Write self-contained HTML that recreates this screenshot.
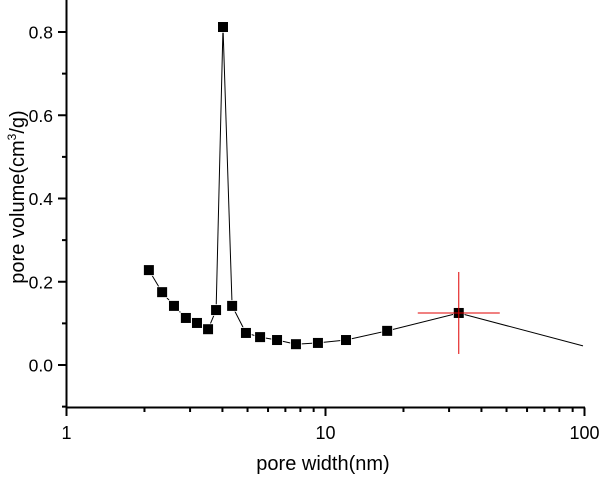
<!DOCTYPE html>
<html><head><meta charset="utf-8"><style>
body{margin:0;background:#fff;width:604px;height:475px;overflow:hidden}
svg{font-family:"Liberation Sans",Arial,sans-serif}
</style></head><body>
<svg id="chart" width="604" height="475" xmlns="http://www.w3.org/2000/svg"></svg>
<script>
const poreWidth=[2.08,2.34,2.60,2.89,3.19,3.52,3.78,4.02,4.36,4.93,5.59,6.50,7.69,9.35,12.0,17.3,32.7,98.7];
const poreVolume=[0.228,0.175,0.142,0.113,0.101,0.086,0.132,0.812,0.142,0.077,0.067,0.060,0.050,0.053,0.060,0.082,0.125,0.046];
const markerShown=[1,1,1,1,1,1,1,1,1,1,1,1,1,1,1,1,1,0];
const yTicks=[0,0.2,0.4,0.6,0.8];
const yTickLabels=["0.0","0.2","0.4","0.6","0.8"];
const xTicks=[1,10,100];
const xTickLabels=["1","10","100"];
const cursorPoint=[32.7,0.125];

const NS="http://www.w3.org/2000/svg";
const svg=document.getElementById('chart');
const X0=66.5,DEC=259,Y0=365,YU=416.25;
function sx(v){return X0+Math.log10(v)*DEC;}
function sy(v){return Y0-v*YU;}
function mk(tag,attrs,parent){const e=document.createElementNS(NS,tag);for(const k in attrs)e.setAttribute(k,attrs[k]);(parent||svg).appendChild(e);return e;}

let a=mk('line',{x1:66.5,y1:0,x2:66.5,y2:408,stroke:'#000','stroke-width':2});


a=mk('line',{x1:65.5,y1:407.5,x2:585,y2:407.5,stroke:'#000','stroke-width':2});



for(let v=-0.1;v<0.86;v+=0.1){
  const r=Math.round(v*10)/10;const major=Math.abs(r*10)%2===0;
  const t=mk('line',{x1:66.5,x2:major?58:62,y1:sy(r),y2:sy(r),stroke:'#000','stroke-width':2});
  
  
}
yTicks.forEach((v,i)=>{
  const t=mk('text',{x:53,y:sy(v)+6.5,'text-anchor':'end','font-size':17.5,fill:'#000'});
  t.textContent=yTickLabels[i];
  
  
});
for(let d=1;d<=100;d*=10){for(let m=1;m<10;m++){const v=d*m;if(v>100)break;
  const major=m===1;
  const t=mk('line',{x1:sx(v),x2:sx(v),y1:407.5,y2:major?416:412,stroke:'#000','stroke-width':2});
  
  
}}
xTicks.forEach((v,i)=>{
  const t=mk('text',{x:sx(v),y:439,'text-anchor':'middle','font-size':18,fill:'#000'});
  t.textContent=xTickLabels[i];
  
  
});
let t=mk('text',{x:323,y:470,'text-anchor':'middle','font-size':20,fill:'#000'});
t.textContent='pore width(nm)';


t=mk('text',{x:0,y:0,'text-anchor':'middle','font-size':20,fill:'#000',transform:'translate(24,197) rotate(-90)'});
t.innerHTML='pore volume(cm<tspan dy="-8" font-size="12">3</tspan><tspan dy="8">/g)</tspan>';



const pts=poreWidth.map((v,i)=>sx(v).toFixed(1)+','+sy(poreVolume[i]).toFixed(1)).join(' ');
const pl=mk('polyline',{points:pts,fill:'none',stroke:'#000','stroke-width':1});


poreWidth.forEach((v,i)=>{
  if(!markerShown[i])return;
  const r=mk('rect',{x:sx(v)-5,y:sy(poreVolume[i])-5,width:10,height:10,fill:'#000',stroke:'#fff','stroke-width':1.5,'paint-order':'stroke'});
  
  
});
const cx=sx(cursorPoint[0]),cy=sy(cursorPoint[1]);
let c=mk('line',{x1:cx-41,x2:cx+41,y1:cy,y2:cy,stroke:'#e00000','stroke-width':1});


c=mk('line',{x1:cx,x2:cx,y1:cy-41,y2:cy+41,stroke:'#e00000','stroke-width':1});


</script>
</body></html>
